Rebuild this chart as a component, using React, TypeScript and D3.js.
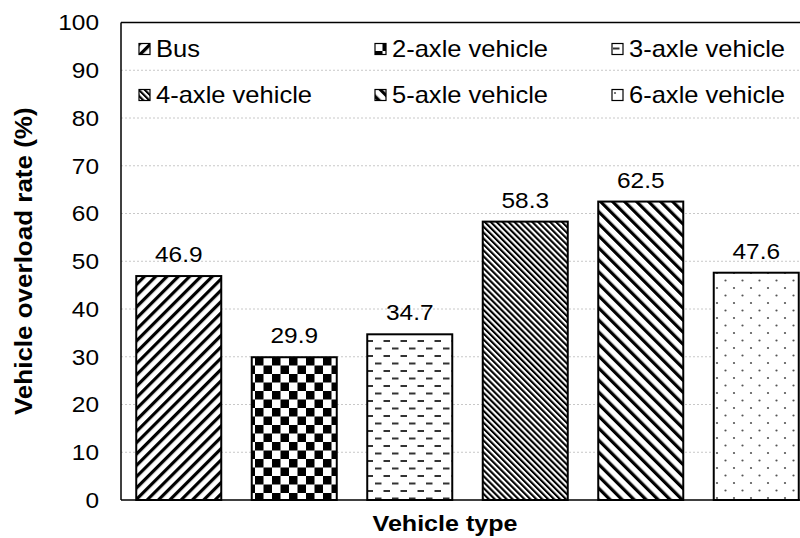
import React from "react";
import * as d3 from "d3";

// Vehicle categories and their overload rates (%)
const categories = [
  "Bus",
  "2-axle vehicle",
  "3-axle vehicle",
  "4-axle vehicle",
  "5-axle vehicle",
  "6-axle vehicle",
];
const overloadRates = [46.9, 29.9, 34.7, 58.3, 62.5, 47.6];
const yTicks = [0, 10, 20, 30, 40, 50, 60, 70, 80, 90, 100];
const patternIds = ["p-bus", "p-2axle", "p-3axle", "p-4axle", "p-5axle", "p-6axle"];

const W = 800;
const H = 538;
const plotLeft = 121;
const plotRight = 814;
const plotTop = 22.5;
const plotBottom = 500;
const FONT = "'Liberation Sans', Arial, sans-serif";

const x = d3
  .scaleBand<string>()
  .domain(categories)
  .range([plotLeft, plotRight])
  .paddingInner(0.264)
  .paddingOuter(0.132);

const y = d3.scaleLinear().domain([0, 100]).range([plotBottom, plotTop]);

type TProps = {
  x: number;
  y: number;
  anchor?: "start" | "middle" | "end";
  size?: number;
  weight?: string | number;
  rotate?: number;
  sx?: number;
  dy?: string;
  children: React.ReactNode;
};

// text with a horizontal glyph stretch
function SText({ x, y, anchor = "start", size = 22, weight = "normal", rotate = 0, sx = 1.11, dy, children }: TProps) {
  return (
    <text
      transform={`translate(${x},${y}) scale(${sx},1) rotate(${rotate})`}
      textAnchor={anchor}
      fontFamily={FONT}
      fontSize={size}
      fontWeight={weight}
      dy={dy}
      fill="#000"
    >
      {children}
    </text>
  );
}

function Patterns() {
  return (
    <defs>
      <pattern id="p-bus" width={8} height={8} patternUnits="userSpaceOnUse" patternTransform="rotate(45)">
        <rect width={8} height={8} fill="#fff" />
        <rect x={0} width={3.2} height={8} fill="#000" />
      </pattern>
      <pattern id="p-2axle" width={17} height={17} patternUnits="userSpaceOnUse">
        <rect width={17} height={17} fill="#fff" />
        <rect x={0} y={0} width={8.5} height={8.5} fill="#000" />
        <rect x={8.5} y={8.5} width={8.5} height={8.5} fill="#000" />
      </pattern>
      <pattern id="p-3axle" width={17} height={15} patternUnits="userSpaceOnUse">
        <rect width={17} height={15} fill="#fff" />
        <rect x={1} y={2.5} width={6.5} height={2} fill="#333" />
        <rect x={9.5} y={10} width={6.5} height={2} fill="#333" />
      </pattern>
      <pattern id="p-4axle" width={4.2} height={4.2} patternUnits="userSpaceOnUse" patternTransform="rotate(-45)">
        <rect width={4.2} height={4.2} fill="#fff" />
        <rect x={0} width={2.1} height={4.2} fill="#000" />
      </pattern>
      <pattern id="p-5axle" width={8.5} height={8.5} patternUnits="userSpaceOnUse" patternTransform="rotate(-45)">
        <rect width={8.5} height={8.5} fill="#fff" />
        <rect x={0} width={3.2} height={8.5} fill="#000" />
      </pattern>
      <pattern id="p-6axle" width={17} height={15} patternUnits="userSpaceOnUse">
        <rect width={17} height={15} fill="#fff" />
        <circle cx={3} cy={3} r={1.1} fill="#555" />
        <circle cx={11.5} cy={10.5} r={1.1} fill="#555" />
      </pattern>
    </defs>
  );
}

export default function App() {
  const legendCols = [139, 375, 612];
  const legendRows = [49, 95];

  return (
    <svg
      width={W}
      height={H}
      viewBox={`0 0 ${W} ${H}`}
      style={{ position: "absolute", left: 0, top: 0, background: "#fff" }}
    >
      <Patterns />
      <rect width={W} height={H} fill="#fff" />

      {/* horizontal gridlines */}
      {yTicks.slice(1, -1).map((t) => (
        <line
          key={`g${t}`}
          x1={plotLeft}
          x2={plotRight}
          y1={y(t)}
          y2={y(t)}
          stroke="#c8c8c8"
          strokeWidth={1}
          strokeDasharray="2,2"
        />
      ))}

      {/* bars */}
      {categories.map((c, i) => (
        <rect
          key={c}
          x={x(c)!}
          y={y(overloadRates[i])}
          width={x.bandwidth()}
          height={y(0) - y(overloadRates[i])}
          fill={`url(#${patternIds[i]})`}
          stroke="#000"
          strokeWidth={2}
        />
      ))}

      {/* value labels */}
      {categories.map((c, i) => (
        <SText key={`v${c}`} x={x(c)! + x.bandwidth() / 2} y={y(overloadRates[i]) - 14} anchor="middle">
          {overloadRates[i].toFixed(1)}
        </SText>
      ))}

      {/* plot frame */}
      <line x1={plotLeft} x2={plotRight} y1={plotTop} y2={plotTop} stroke="#000" strokeWidth={1.5} />
      <line x1={plotLeft} x2={plotLeft} y1={plotTop} y2={plotBottom} stroke="#000" strokeWidth={1.5} />
      <line x1={plotLeft} x2={plotRight} y1={plotBottom} y2={plotBottom} stroke="#000" strokeWidth={1.5} />

      {/* y tick labels */}
      {yTicks.map((t) => (
        <SText key={`t${t}`} x={99} y={y(t)} anchor="end" dy="0.36em">
          {t}
        </SText>
      ))}

      {/* legend */}
      {categories.map((c, i) => {
        const cx = legendCols[i % 3];
        const cy = legendRows[Math.floor(i / 3)];
        return (
          <g key={`l${c}`}>
            <rect
              x={cx}
              y={cy - 5.5}
              width={11}
              height={11}
              fill={`url(#${patternIds[i]})`}
              stroke="#000"
              strokeWidth={1.2}
            />
            <SText x={cx + 17} y={cy} dy="0.36em" size={23}>
              {c}
            </SText>
          </g>
        );
      })}

      {/* axis titles */}
      <SText x={445} y={531} anchor="middle" size={22} sx={1.14} weight="bold">
        Vehicle type
      </SText>
      <SText x={32} y={(plotTop + plotBottom) / 2} anchor="middle" size={26} sx={0.92} weight="bold" rotate={-90}>
        Vehicle overload rate (%)
      </SText>
    </svg>
  );
}
